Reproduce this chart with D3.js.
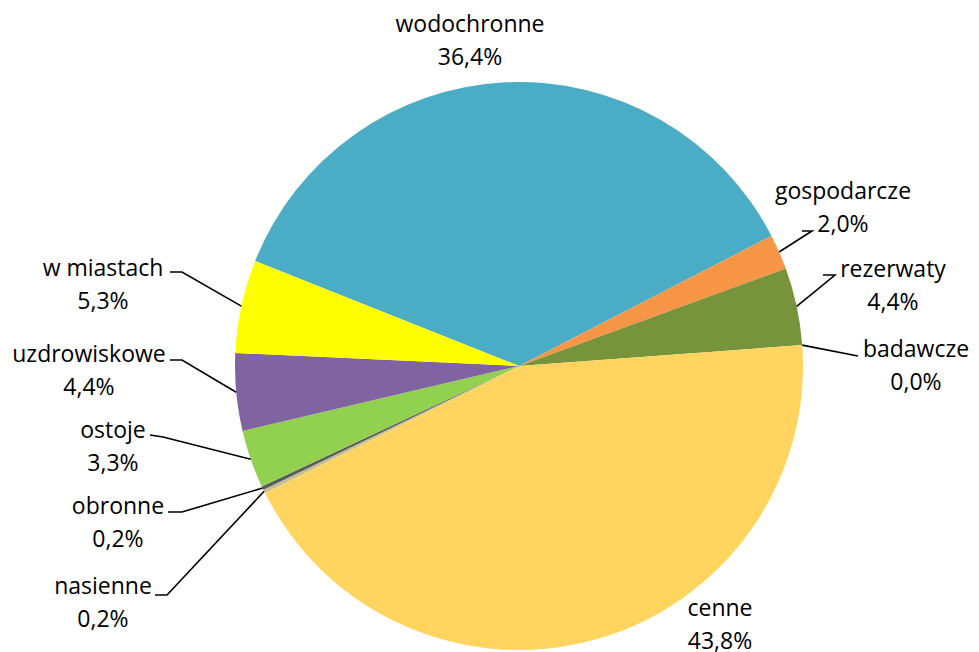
<!DOCTYPE html>
<html><head><meta charset="utf-8">
<script src="https://cdn.jsdelivr.net/npm/d3@7"></script>
<style>body{margin:0;background:#fff}svg{display:block}text{font-family:"Open Sans",Lato,sans-serif}</style>
</head><body><svg id="c" width="979" height="652"></svg>
<script>
const categories = ["wodochronne","gospodarcze","rezerwaty","badawcze","cenne","nasienne","obronne","ostoje","uzdrowiskowe","w miastach"];
const values = [36.4, 2.0, 4.4, 0.0, 43.8, 0.2, 0.2, 3.3, 4.4, 5.3];
const valueLabels = ["36,4%","2,0%","4,4%","0,0%","43,8%","0,2%","0,2%","3,3%","4,4%","5,3%"];
const colors = ["#4BACC6","#F79646","#77933C","#8E8E8E","#FFD55F","#C4BD97","#5A5A5A","#92D050","#8064A2","#FFFF00"];

// label layout: text centre, and leader elbow (null = no leader)
const layout = {
  "wodochronne": {x:470, y:32, leader:null},
  "gospodarcze": {x:843, y:199, leader:[[812,231],[802,231]]},
  "rezerwaty":   {x:893, y:277, leader:[[835,275],[823,275]]},
  "badawcze":    {x:916, y:357, leader:[[858,356]]},
  "cenne":       {x:720, y:616, leader:null},
  "nasienne":    {x:103, y:594, leader:[[155,595],[167,595]]},
  "obronne":     {x:118, y:514, leader:[[168,512],[182,512]]},
  "ostoje":      {x:113, y:438, leader:[[150,435],[163,437]]},
  "uzdrowiskowe":{x:89,  y:362, leader:[[170,360],[182,360]]},
  "w miastach":  {x:103, y:276, leader:[[170,272],[182,272]]}
};

const cx = 519, cy = 366, R = 284;
const svg = d3.select("#c");
const g = svg.append("g").attr("transform", `translate(${cx},${cy})`);
const start = -68.3 * Math.PI/180;
const pie = d3.pie().sort(null).value(d=>d.v).startAngle(start).endAngle(start + 2*Math.PI);
const data = categories.map((c,i)=>({c, v:values[i], lab:valueLabels[i], col:colors[i]}));
const arcs = pie(data);
const arc = d3.arc().innerRadius(0).outerRadius(R);
g.selectAll("path.s").data(arcs).join("path").attr("class","s")
  .attr("d", arc).attr("fill", d=>d.data.col).attr("stroke","none");

// leaders
const lead = svg.append("g");
arcs.forEach(a=>{
  const L = layout[a.data.c];
  if (!L.leader) return;
  const m = (a.startAngle + a.endAngle)/2;
  const p0 = [cx + R*Math.sin(m), cy - R*Math.cos(m)];
  const ordered = (p0[0] < cx) ? [...L.leader, p0] : [p0, ...L.leader];
  lead.append("path").attr("d", d3.line()(ordered)).attr("fill","none").attr("stroke","#000").attr("stroke-width",1.6);
});

// labels
const lab = svg.append("g");
arcs.forEach(a=>{
  const L = layout[a.data.c];
  const t = lab.append("text").attr("text-anchor","middle").attr("font-size",23).attr("fill","#000");
  t.append("tspan").attr("x",L.x).attr("y",L.y).text(a.data.c);
  t.append("tspan").attr("x",L.x).attr("y",L.y+33).text(a.data.lab);
});
</script></body></html>
